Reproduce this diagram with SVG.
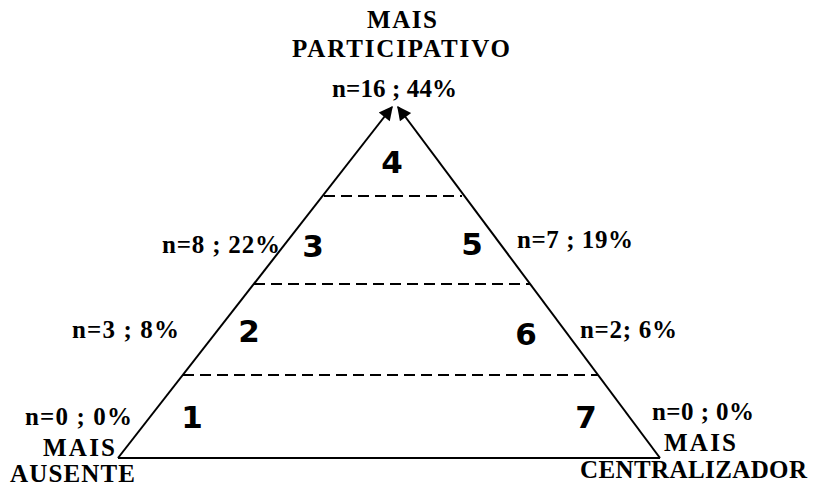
<svg xmlns="http://www.w3.org/2000/svg" width="823" height="489" viewBox="0 0 823 489">
<style>
.ln{stroke:#000;stroke-width:2;fill:none}
.dash{stroke:#000;stroke-width:2;stroke-dasharray:11 6;fill:none}
.lab{font-family:"Liberation Serif","Times New Roman",serif;font-weight:bold;font-size:25px;fill:#000}
.num{font-family:"DejaVu Sans",sans-serif;font-weight:bold;font-size:31px;fill:#000;text-anchor:middle}
</style>
<defs>
<marker id="ah" viewBox="0 0 10 10" refX="9" refY="5" markerWidth="8" markerHeight="7" markerUnits="strokeWidth" orient="auto">
<path d="M0,0 L10,5 L0,10 z" fill="#000"/>
</marker>
</defs>
<rect width="823" height="489" fill="#fff"/>
<g id="connectors">
<line class="ln" x1="118" y1="458" x2="392" y2="107" marker-end="url(#ah)"/>
<line class="ln" x1="660" y1="458" x2="398" y2="107" marker-end="url(#ah)"/>
<line class="ln" x1="118" y1="458" x2="660" y2="458"/>
<line class="dash" x1="324" y1="196" x2="462" y2="196"/>
<line class="dash" x1="254" y1="284" x2="530" y2="284"/>
<line class="dash" x1="183" y1="375" x2="598" y2="375"/>
</g>
<g id="level-4"><text class="num" x="392" y="173">4</text></g>
<g id="level-3"><text class="num" x="313" y="257">3</text></g>
<g id="level-5"><text class="num" x="472" y="255">5</text></g>
<g id="level-2"><text class="num" x="249" y="342">2</text></g>
<g id="level-6"><text class="num" x="526" y="345">6</text></g>
<g id="level-1"><text class="num" x="192" y="428">1</text></g>
<g id="level-7"><text class="num" x="586" y="428">7</text></g>
<g id="top-label">
<text class="lab" x="367" y="28" textLength="70" lengthAdjust="spacing">MAIS</text>
<text class="lab" x="292" y="57" textLength="218" lengthAdjust="spacing">PARTICIPATIVO</text>
<text class="lab" x="332" y="97" textLength="125" lengthAdjust="spacing">n=16 ; 44%</text>
</g>
<g id="left-labels">
<text class="lab" x="162" y="253" textLength="118" lengthAdjust="spacing">n=8 ; 22%</text>
<text class="lab" x="72" y="338" textLength="107" lengthAdjust="spacing">n=3 ; 8%</text>
<text class="lab" x="25" y="425" textLength="107" lengthAdjust="spacing">n=0 ; 0%</text>
<text class="lab" x="43" y="456" textLength="72" lengthAdjust="spacing">MAIS</text>
<text class="lab" x="10" y="482" textLength="125" lengthAdjust="spacing">AUSENTE</text>
</g>
<g id="right-labels">
<text class="lab" x="517" y="248" textLength="116" lengthAdjust="spacing">n=7 ; 19%</text>
<text class="lab" x="580" y="338" textLength="97" lengthAdjust="spacing">n=2; 6%</text>
<text class="lab" x="652" y="420" textLength="102" lengthAdjust="spacing">n=0 ; 0%</text>
<text class="lab" x="664" y="451" textLength="72" lengthAdjust="spacing">MAIS</text>
<text class="lab" x="580" y="478" textLength="227" lengthAdjust="spacing">CENTRALIZADOR</text>
</g>
</svg>
